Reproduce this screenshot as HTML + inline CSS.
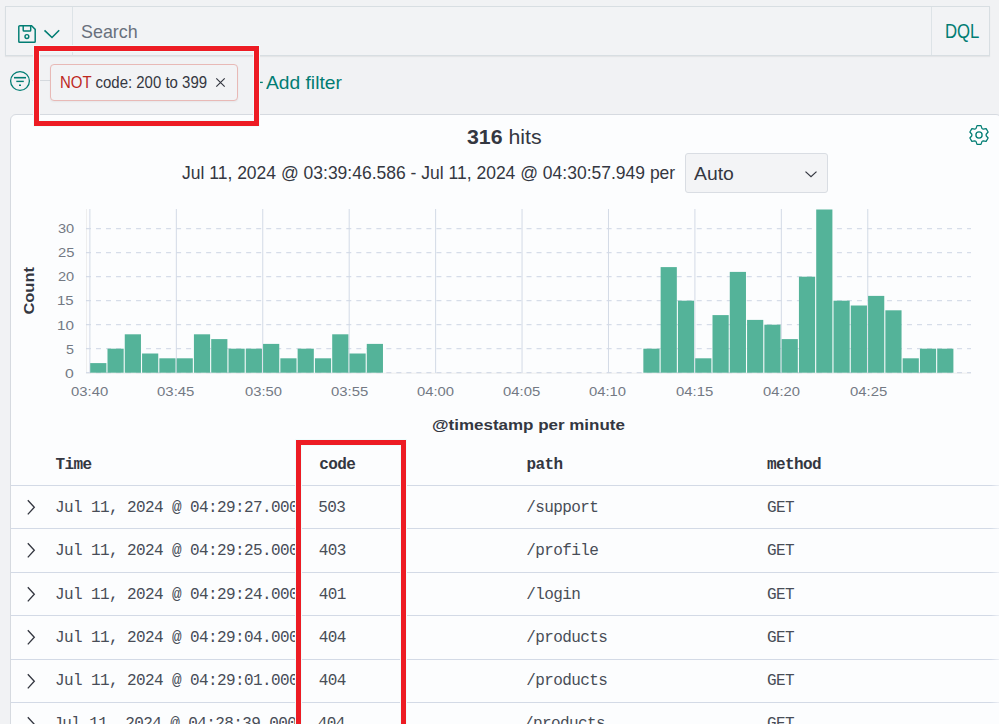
<!DOCTYPE html>
<html><head><meta charset="utf-8">
<style>
*{margin:0;padding:0;box-sizing:border-box}
html,body{width:999px;height:724px;overflow:hidden}
body{background:#f1f2f4;font-family:"Liberation Sans",sans-serif;color:#343741;position:relative}
.abs{position:absolute}
.t{position:absolute;white-space:nowrap;transform-origin:0 0}
#qbar{position:absolute;left:5px;top:6px;width:985px;height:50px;border:1px solid #d8dee2;background:#f2f3f5;box-shadow:0 1px 1px rgba(0,0,0,0.05)}
#qbar .sep1{position:absolute;left:66px;top:0;width:1px;height:48px;background:#dde3e7}
#qbar .sep2{position:absolute;left:925px;top:0;width:1px;height:48px;background:#dde3e7}
#pill{position:absolute;left:50px;top:64px;width:188px;height:37px;border:1px solid #e8b9b6;border-radius:4px;background:#f2f3f5;box-shadow:0 1px 2px rgba(0,0,0,0.05)}
#panel{position:absolute;left:10px;top:114px;width:992px;height:640px;border:1px solid #d6dae0;border-radius:6px;background:#fcfdfe}
#sel{position:absolute;left:685px;top:153px;width:143px;height:40px;border:1px solid #d9dde3;border-radius:3px;background:#f3f4f6}
.red{position:absolute;border:5px solid #ed1c24;box-shadow:0 0 0 1px #effdfd, inset 0 0 0 1px #effdfd}
svg.chart{position:absolute;left:0;top:0}
.tick{font-family:"Liberation Sans",sans-serif;font-size:12px;fill:#69707d}
.axt{font-family:"Liberation Sans",sans-serif;font-size:15px;font-weight:bold;fill:#343741}
.axt2{font-family:"Liberation Sans",sans-serif;font-size:14px;font-weight:bold;fill:#343741}
.rsep{position:absolute;left:11px;width:988px;height:1px;background:linear-gradient(to right,#d3dae6 0,#d3dae6 980px,#eceff4 988px)}
</style></head><body>
<div id="qbar"><div class="sep1"></div><div class="sep2"></div></div>
<svg class="abs" style="left:17px;top:24px" width="20" height="20" viewBox="0 0 20 20">
 <path d="M2.3 1.8 H14.6 L18.2 5.4 V17.4 Q18.2 18.2 17.4 18.2 H2.6 Q1.8 18.2 1.8 17.4 V2.6 Q1.8 1.8 2.6 1.8 Z" fill="none" stroke="#017d73" stroke-width="1.45"/>
 <path d="M6.2 1.8 V6.2 Q6.2 7 7 7 H13 Q13.7 7 13.7 6.2 V1.8" fill="none" stroke="#017d73" stroke-width="1.45"/>
 <circle cx="9.9" cy="12.5" r="1.9" fill="none" stroke="#017d73" stroke-width="1.45"/>
</svg>
<svg class="abs" style="left:43px;top:28px" width="18" height="12" viewBox="0 0 18 12">
 <path d="M1.5 2.3 L9 9.5 L16.2 2.3" fill="none" stroke="#017d73" stroke-width="1.6"/>
</svg>
<svg class="abs" style="left:0;top:60px" width="300" height="45" viewBox="0 0 300 45">
 <circle cx="20" cy="21" r="9.4" fill="none" stroke="#017d73" stroke-width="1.3"/>
 <line x1="14" y1="17.7" x2="26" y2="17.7" stroke="#017d73" stroke-width="1.6"/>
 <line x1="16.3" y1="21.4" x2="23.8" y2="21.4" stroke="#017d73" stroke-width="1.4"/>
 <line x1="19" y1="25.3" x2="21" y2="25.3" stroke="#017d73" stroke-width="1.4"/>
 <line x1="32" y1="20.5" x2="50" y2="20.5" stroke="#d5d9de" stroke-width="1"/>
 <line x1="254" y1="22.4" x2="262.8" y2="22.4" stroke="#017d73" stroke-width="1.3"/>
 <line x1="258.4" y1="18.3" x2="258.4" y2="26.6" stroke="#017d73" stroke-width="1.2"/>
</svg>
<div id="pill"></div>
<svg class="abs" style="left:215px;top:77px" width="11" height="11" viewBox="0 0 11 11"><path d="M1.3 1.3 L9.7 9.7 M9.7 1.3 L1.3 9.7" stroke="#343741" stroke-width="1.15"/></svg>
<div id="panel"></div>
<svg class="abs" style="left:968px;top:124px" width="22" height="22" viewBox="0 0 22 22">
 <path d="M8.07 4.42 L9.00 1.61 L13.00 1.61 L13.93 4.42 L15.23 5.18 L18.13 4.58 L20.13 8.03 L18.16 10.25 L18.16 11.75 L20.13 13.97 L18.13 17.42 L15.23 16.82 L13.93 17.58 L13.00 20.39 L9.00 20.39 L8.07 17.58 L6.77 16.82 L3.87 17.42 L1.87 13.97 L3.84 11.75 L3.84 10.25 L1.87 8.03 L3.87 4.58 L6.77 5.18 Z" fill="none" stroke="#017d73" stroke-width="1.25" stroke-linejoin="round"/>
 <circle cx="11" cy="11" r="3.1" fill="none" stroke="#017d73" stroke-width="1.3"/>
</svg>
<div id="sel"></div>
<svg class="abs" style="left:803.5px;top:168.5px" width="14" height="10" viewBox="0 0 14 10"><path d="M1.5 2.6 L7 7.6 L12.5 2.6" fill="none" stroke="#343741" stroke-width="1.25"/></svg>
<svg class="chart" width="999" height="724">
<line x1="86.5" y1="209" x2="86.5" y2="373" stroke="#eeeeee" stroke-width="1"/>
<line x1="86" y1="373.2" x2="971" y2="373.2" stroke="#eeeeee" stroke-width="1"/>
<line x1="86" y1="372.70" x2="971" y2="372.70" stroke="#cdd5e4" stroke-width="1" stroke-dasharray="5.006 5.006"/>
<line x1="86" y1="348.70" x2="971" y2="348.70" stroke="#cdd5e4" stroke-width="1" stroke-dasharray="5.006 5.006"/>
<line x1="86" y1="324.70" x2="971" y2="324.70" stroke="#cdd5e4" stroke-width="1" stroke-dasharray="5.006 5.006"/>
<line x1="86" y1="300.70" x2="971" y2="300.70" stroke="#cdd5e4" stroke-width="1" stroke-dasharray="5.006 5.006"/>
<line x1="86" y1="276.70" x2="971" y2="276.70" stroke="#cdd5e4" stroke-width="1" stroke-dasharray="5.006 5.006"/>
<line x1="86" y1="252.70" x2="971" y2="252.70" stroke="#cdd5e4" stroke-width="1" stroke-dasharray="5.006 5.006"/>
<line x1="86" y1="228.70" x2="971" y2="228.70" stroke="#cdd5e4" stroke-width="1" stroke-dasharray="5.006 5.006"/>
<line x1="89.90" y1="209" x2="89.90" y2="373" stroke="#d3dae6" stroke-width="1"/>
<line x1="176.33" y1="209" x2="176.33" y2="373" stroke="#d3dae6" stroke-width="1"/>
<line x1="262.76" y1="209" x2="262.76" y2="373" stroke="#d3dae6" stroke-width="1"/>
<line x1="349.19" y1="209" x2="349.19" y2="373" stroke="#d3dae6" stroke-width="1"/>
<line x1="435.62" y1="209" x2="435.62" y2="373" stroke="#d3dae6" stroke-width="1"/>
<line x1="522.05" y1="209" x2="522.05" y2="373" stroke="#d3dae6" stroke-width="1"/>
<line x1="608.48" y1="209" x2="608.48" y2="373" stroke="#d3dae6" stroke-width="1"/>
<line x1="694.91" y1="209" x2="694.91" y2="373" stroke="#d3dae6" stroke-width="1"/>
<line x1="781.34" y1="209" x2="781.34" y2="373" stroke="#d3dae6" stroke-width="1"/>
<line x1="867.77" y1="209" x2="867.77" y2="373" stroke="#d3dae6" stroke-width="1"/>
<rect x="90.20" y="363.10" width="16.19" height="9.60" fill="#54b399"/>
<rect x="107.49" y="348.70" width="16.19" height="24.00" fill="#54b399"/>
<rect x="124.77" y="334.30" width="16.19" height="38.40" fill="#54b399"/>
<rect x="142.06" y="353.50" width="16.19" height="19.20" fill="#54b399"/>
<rect x="159.34" y="358.30" width="16.19" height="14.40" fill="#54b399"/>
<rect x="176.63" y="358.30" width="16.19" height="14.40" fill="#54b399"/>
<rect x="193.92" y="334.30" width="16.19" height="38.40" fill="#54b399"/>
<rect x="211.20" y="339.10" width="16.19" height="33.60" fill="#54b399"/>
<rect x="228.49" y="348.70" width="16.19" height="24.00" fill="#54b399"/>
<rect x="245.77" y="348.70" width="16.19" height="24.00" fill="#54b399"/>
<rect x="263.06" y="343.90" width="16.19" height="28.80" fill="#54b399"/>
<rect x="280.35" y="358.30" width="16.19" height="14.40" fill="#54b399"/>
<rect x="297.63" y="348.70" width="16.19" height="24.00" fill="#54b399"/>
<rect x="314.92" y="358.30" width="16.19" height="14.40" fill="#54b399"/>
<rect x="332.20" y="334.30" width="16.19" height="38.40" fill="#54b399"/>
<rect x="349.49" y="353.50" width="16.19" height="19.20" fill="#54b399"/>
<rect x="366.78" y="343.90" width="16.19" height="28.80" fill="#54b399"/>
<rect x="643.35" y="348.70" width="16.19" height="24.00" fill="#54b399"/>
<rect x="660.64" y="267.10" width="16.19" height="105.60" fill="#54b399"/>
<rect x="677.92" y="300.70" width="16.19" height="72.00" fill="#54b399"/>
<rect x="695.21" y="358.30" width="16.19" height="14.40" fill="#54b399"/>
<rect x="712.50" y="315.10" width="16.19" height="57.60" fill="#54b399"/>
<rect x="729.78" y="271.90" width="16.19" height="100.80" fill="#54b399"/>
<rect x="747.07" y="319.90" width="16.19" height="52.80" fill="#54b399"/>
<rect x="764.35" y="324.70" width="16.19" height="48.00" fill="#54b399"/>
<rect x="781.64" y="339.10" width="16.19" height="33.60" fill="#54b399"/>
<rect x="798.93" y="276.70" width="16.19" height="96.00" fill="#54b399"/>
<rect x="816.21" y="209.50" width="16.19" height="163.20" fill="#54b399"/>
<rect x="833.50" y="300.70" width="16.19" height="72.00" fill="#54b399"/>
<rect x="850.78" y="305.50" width="16.19" height="67.20" fill="#54b399"/>
<rect x="868.07" y="295.90" width="16.19" height="76.80" fill="#54b399"/>
<rect x="885.36" y="310.30" width="16.19" height="62.40" fill="#54b399"/>
<rect x="902.64" y="358.30" width="16.19" height="14.40" fill="#54b399"/>
<rect x="919.93" y="348.70" width="16.19" height="24.00" fill="#54b399"/>
<rect x="937.21" y="348.70" width="16.19" height="24.00" fill="#54b399"/>
<text x="0" y="0" transform="translate(34.4,290.8) rotate(-90)" text-anchor="middle" class="axt" textLength="47.5" lengthAdjust="spacingAndGlyphs">Count</text>
</svg>
<div class="rsep" style="top:485.00px"></div>
<svg class="abs" style="left:26px;top:499.00px" width="10" height="17" viewBox="0 0 10 17"><path d="M1.8 1.2 L8.3 8.3 L1.8 15.4" fill="none" stroke="#343741" stroke-width="1.35"/></svg>
<div class="rsep" style="top:528.44px"></div>
<svg class="abs" style="left:26px;top:542.44px" width="10" height="17" viewBox="0 0 10 17"><path d="M1.8 1.2 L8.3 8.3 L1.8 15.4" fill="none" stroke="#343741" stroke-width="1.35"/></svg>
<div class="rsep" style="top:571.88px"></div>
<svg class="abs" style="left:26px;top:585.88px" width="10" height="17" viewBox="0 0 10 17"><path d="M1.8 1.2 L8.3 8.3 L1.8 15.4" fill="none" stroke="#343741" stroke-width="1.35"/></svg>
<div class="rsep" style="top:615.32px"></div>
<svg class="abs" style="left:26px;top:629.32px" width="10" height="17" viewBox="0 0 10 17"><path d="M1.8 1.2 L8.3 8.3 L1.8 15.4" fill="none" stroke="#343741" stroke-width="1.35"/></svg>
<div class="rsep" style="top:658.76px"></div>
<svg class="abs" style="left:26px;top:672.76px" width="10" height="17" viewBox="0 0 10 17"><path d="M1.8 1.2 L8.3 8.3 L1.8 15.4" fill="none" stroke="#343741" stroke-width="1.35"/></svg>
<div class="rsep" style="top:702.20px"></div>
<svg class="abs" style="left:26px;top:716.20px" width="10" height="17" viewBox="0 0 10 17"><path d="M1.8 1.2 L8.3 8.3 L1.8 15.4" fill="none" stroke="#343741" stroke-width="1.35"/></svg>
<div class="t" id="search" style="left:81.32px;top:22.46px;font-family:'Liberation Sans';font-size:19px;line-height:19px;color:#69707d;font-weight:400;transform:scaleX(0.9413);">Search</div>
<div class="t" id="dql" style="left:944.61px;top:21.76px;font-family:'Liberation Sans';font-size:19.5px;line-height:19.5px;color:#017d73;font-weight:400;transform:scaleX(0.8578);">DQL</div>
<div class="t" id="pilltxt" style="left:60.08px;top:75.46px;font-family:'Liberation Sans';font-size:16px;line-height:16px;color:#343741;font-weight:400;transform:scaleX(0.9357);"><span style="color:#bd271e">NOT</span> code: 200 to 399</div>
<div class="t" id="addf" style="left:266.00px;top:73.46px;font-family:'Liberation Sans';font-size:19px;line-height:19px;color:#017d73;font-weight:400;transform:scaleX(1.0114);">Add filter</div>
<div class="t" id="hits" style="left:467.38px;top:127.46px;font-family:'Liberation Sans';font-size:20.5px;line-height:20.5px;color:#343741;font-weight:400;transform:scaleX(1.0391);"><b>316</b> hits</div>
<div class="t" id="range" style="left:182.30px;top:164.40px;font-family:'Liberation Sans';font-size:18.5px;line-height:18.5px;color:#343741;font-weight:400;transform:scaleX(0.9460);">Jul 11, 2024 @ 03:39:46.586 - Jul 11, 2024 @ 04:30:57.949 per</div>
<div class="t" id="auto" style="left:694.04px;top:165.25px;font-family:'Liberation Sans';font-size:18.5px;line-height:18.5px;color:#343741;font-weight:400;transform:scaleX(1.0457);">Auto</div>
<div class="t" id="hTime" style="left:55.44px;top:457.17px;font-family:'Liberation Mono';font-size:16px;line-height:16px;color:#343741;font-weight:700;letter-spacing:-0.600px;">Time</div>
<div class="t" id="hcode" style="left:319.15px;top:457.17px;font-family:'Liberation Mono';font-size:16px;line-height:16px;color:#343741;font-weight:700;letter-spacing:-0.600px;">code</div>
<div class="t" id="hpath" style="left:526.56px;top:457.17px;font-family:'Liberation Mono';font-size:16px;line-height:16px;color:#343741;font-weight:700;letter-spacing:-0.600px;">path</div>
<div class="t" id="hmethod" style="left:766.91px;top:457.17px;font-family:'Liberation Mono';font-size:16px;line-height:16px;color:#343741;font-weight:700;letter-spacing:-0.600px;">method</div>
<div class="t" id="r0t" style="left:55.07px;top:500.27px;font-family:'Liberation Mono';font-size:16px;line-height:16px;color:#484d57;font-weight:400;letter-spacing:-0.600px;">Jul 11, 2024 @ 04:29:27.000</div>
<div class="t" id="r0c" style="left:318.14px;top:500.27px;font-family:'Liberation Mono';font-size:16px;line-height:16px;color:#484d57;font-weight:400;letter-spacing:-0.600px;">503</div>
<div class="t" id="r0p" style="left:526.27px;top:500.27px;font-family:'Liberation Mono';font-size:16px;line-height:16px;color:#484d57;font-weight:400;letter-spacing:-0.600px;">/support</div>
<div class="t" id="r0m" style="left:766.89px;top:500.27px;font-family:'Liberation Mono';font-size:16px;line-height:16px;color:#484d57;font-weight:400;letter-spacing:-0.600px;">GET</div>
<div class="t" id="r1t" style="left:55.07px;top:542.71px;font-family:'Liberation Mono';font-size:16px;line-height:16px;color:#484d57;font-weight:400;letter-spacing:-0.600px;">Jul 11, 2024 @ 04:29:25.000</div>
<div class="t" id="r1c" style="left:318.74px;top:542.71px;font-family:'Liberation Mono';font-size:16px;line-height:16px;color:#484d57;font-weight:400;letter-spacing:-0.600px;">403</div>
<div class="t" id="r1p" style="left:526.27px;top:542.71px;font-family:'Liberation Mono';font-size:16px;line-height:16px;color:#484d57;font-weight:400;letter-spacing:-0.600px;">/profile</div>
<div class="t" id="r1m" style="left:766.89px;top:542.71px;font-family:'Liberation Mono';font-size:16px;line-height:16px;color:#484d57;font-weight:400;letter-spacing:-0.600px;">GET</div>
<div class="t" id="r2t" style="left:55.07px;top:587.15px;font-family:'Liberation Mono';font-size:16px;line-height:16px;color:#484d57;font-weight:400;letter-spacing:-0.600px;">Jul 11, 2024 @ 04:29:24.000</div>
<div class="t" id="r2c" style="left:318.72px;top:587.15px;font-family:'Liberation Mono';font-size:16px;line-height:16px;color:#484d57;font-weight:400;letter-spacing:-0.600px;">401</div>
<div class="t" id="r2p" style="left:526.28px;top:587.15px;font-family:'Liberation Mono';font-size:16px;line-height:16px;color:#484d57;font-weight:400;letter-spacing:-0.600px;">/login</div>
<div class="t" id="r2m" style="left:766.89px;top:587.15px;font-family:'Liberation Mono';font-size:16px;line-height:16px;color:#484d57;font-weight:400;letter-spacing:-0.600px;">GET</div>
<div class="t" id="r3t" style="left:55.07px;top:629.59px;font-family:'Liberation Mono';font-size:16px;line-height:16px;color:#484d57;font-weight:400;letter-spacing:-0.600px;">Jul 11, 2024 @ 04:29:04.000</div>
<div class="t" id="r3c" style="left:318.74px;top:629.59px;font-family:'Liberation Mono';font-size:16px;line-height:16px;color:#484d57;font-weight:400;letter-spacing:-0.600px;">404</div>
<div class="t" id="r3p" style="left:526.26px;top:629.59px;font-family:'Liberation Mono';font-size:16px;line-height:16px;color:#484d57;font-weight:400;letter-spacing:-0.600px;">/products</div>
<div class="t" id="r3m" style="left:766.89px;top:629.59px;font-family:'Liberation Mono';font-size:16px;line-height:16px;color:#484d57;font-weight:400;letter-spacing:-0.600px;">GET</div>
<div class="t" id="r4t" style="left:55.07px;top:673.03px;font-family:'Liberation Mono';font-size:16px;line-height:16px;color:#484d57;font-weight:400;letter-spacing:-0.600px;">Jul 11, 2024 @ 04:29:01.000</div>
<div class="t" id="r4c" style="left:318.74px;top:673.03px;font-family:'Liberation Mono';font-size:16px;line-height:16px;color:#484d57;font-weight:400;letter-spacing:-0.600px;">404</div>
<div class="t" id="r4p" style="left:526.26px;top:673.03px;font-family:'Liberation Mono';font-size:16px;line-height:16px;color:#484d57;font-weight:400;letter-spacing:-0.600px;">/products</div>
<div class="t" id="r4m" style="left:766.89px;top:673.03px;font-family:'Liberation Mono';font-size:16px;line-height:16px;color:#484d57;font-weight:400;letter-spacing:-0.600px;">GET</div>
<div class="t" id="r5t" style="left:53.14px;top:716.47px;font-family:'Liberation Mono';font-size:16px;line-height:16px;color:#484d57;font-weight:400;letter-spacing:-0.600px;">Jul 11, 2024 @ 04:28:39.000</div>
<div class="t" id="r5c" style="left:317.76px;top:716.47px;font-family:'Liberation Mono';font-size:16px;line-height:16px;color:#484d57;font-weight:400;letter-spacing:-0.600px;">404</div>
<div class="t" id="r5p" style="left:524.11px;top:716.47px;font-family:'Liberation Mono';font-size:16px;line-height:16px;color:#484d57;font-weight:400;letter-spacing:-0.600px;">/products</div>
<div class="t" id="r5m" style="left:766.94px;top:716.47px;font-family:'Liberation Mono';font-size:16px;line-height:16px;color:#484d57;font-weight:400;letter-spacing:-0.600px;">GET</div>
<div class="t" id="xl0" style="left:70.94px;top:386.36px;font-family:'Liberation Sans';font-size:12.7px;line-height:12.7px;color:#737984;font-weight:400;transform:scaleX(1.1708);">03:40</div>
<div class="t" id="xl1" style="left:157.48px;top:386.36px;font-family:'Liberation Sans';font-size:12.7px;line-height:12.7px;color:#737984;font-weight:400;transform:scaleX(1.1787);">03:45</div>
<div class="t" id="xl2" style="left:244.55px;top:386.36px;font-family:'Liberation Sans';font-size:12.7px;line-height:12.7px;color:#737984;font-weight:400;transform:scaleX(1.1641);">03:50</div>
<div class="t" id="xl3" style="left:331.03px;top:386.36px;font-family:'Liberation Sans';font-size:12.7px;line-height:12.7px;color:#737984;font-weight:400;transform:scaleX(1.1737);">03:55</div>
<div class="t" id="xl4" style="left:417.07px;top:386.36px;font-family:'Liberation Sans';font-size:12.7px;line-height:12.7px;color:#737984;font-weight:400;transform:scaleX(1.1681);">04:00</div>
<div class="t" id="xl5" style="left:503.48px;top:386.36px;font-family:'Liberation Sans';font-size:12.7px;line-height:12.7px;color:#737984;font-weight:400;transform:scaleX(1.1720);">04:05</div>
<div class="t" id="xl6" style="left:589.43px;top:386.36px;font-family:'Liberation Sans';font-size:12.7px;line-height:12.7px;color:#737984;font-weight:400;transform:scaleX(1.1688);">04:10</div>
<div class="t" id="xl7" style="left:675.96px;top:386.36px;font-family:'Liberation Sans';font-size:12.7px;line-height:12.7px;color:#737984;font-weight:400;transform:scaleX(1.1777);">04:15</div>
<div class="t" id="xl8" style="left:762.58px;top:386.36px;font-family:'Liberation Sans';font-size:12.7px;line-height:12.7px;color:#737984;font-weight:400;transform:scaleX(1.1649);">04:20</div>
<div class="t" id="xl9" style="left:849.51px;top:386.36px;font-family:'Liberation Sans';font-size:12.7px;line-height:12.7px;color:#737984;font-weight:400;transform:scaleX(1.1744);">04:25</div>
<div class="t" id="yl0" style="left:65.07px;top:367.66px;font-family:'Liberation Sans';font-size:12.7px;line-height:12.7px;color:#737984;font-weight:400;transform:scaleX(1.2431);">0</div>
<div class="t" id="yl1" style="left:65.99px;top:344.46px;font-family:'Liberation Sans';font-size:12.7px;line-height:12.7px;color:#737984;font-weight:400;transform:scaleX(1.1310);">5</div>
<div class="t" id="yl2" style="left:57.10px;top:319.66px;font-family:'Liberation Sans';font-size:12.7px;line-height:12.7px;color:#737984;font-weight:400;transform:scaleX(1.2045);">10</div>
<div class="t" id="yl3" style="left:57.15px;top:294.66px;font-family:'Liberation Sans';font-size:12.7px;line-height:12.7px;color:#737984;font-weight:400;transform:scaleX(1.1816);">15</div>
<div class="t" id="yl4" style="left:57.77px;top:270.66px;font-family:'Liberation Sans';font-size:12.7px;line-height:12.7px;color:#737984;font-weight:400;transform:scaleX(1.1473);">20</div>
<div class="t" id="yl5" style="left:57.77px;top:246.66px;font-family:'Liberation Sans';font-size:12.7px;line-height:12.7px;color:#737984;font-weight:400;transform:scaleX(1.1627);">25</div>
<div class="t" id="yl6" style="left:57.75px;top:222.66px;font-family:'Liberation Sans';font-size:12.7px;line-height:12.7px;color:#737984;font-weight:400;transform:scaleX(1.1480);">30</div>
<div class="t" id="xtitle" style="left:432.17px;top:417.90px;font-family:'Liberation Sans';font-size:14px;line-height:14px;color:#343741;font-weight:700;transform:scaleX(1.2122);">@timestamp per minute</div>
<div class="red" style="left:34px;top:46px;width:225px;height:80px"></div>
<div class="red" style="left:296px;top:440px;width:110px;height:300px"></div>
</body></html>
